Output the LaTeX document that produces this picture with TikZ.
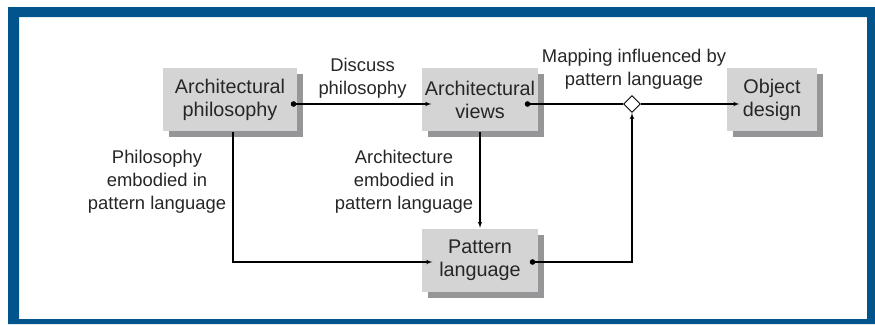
\documentclass[tikz,border=0pt]{standalone}
\usepackage{fontspec}
\setmainfont{Liberation Sans}
\usepackage{xcolor}
\usepackage{tikz}
\usetikzlibrary{arrows,shapes.geometric,shadows}

\definecolor{frameblue}{RGB}{2,84,140}
\definecolor{boxgray}{RGB}{212,212,212}
\definecolor{shadegray}{RGB}{150,150,153}

\begin{document}
\begin{tikzpicture}[->,>=latex',x=1pt,y=1pt,line width=1.1pt,node distance=250pt,
                    every node/.style={align=center,text=black!85}]
  \tikzstyle{block}=[draw=none,fill=boxgray,minimum height=63pt,inner sep=0pt,
                     font=\fontsize{19.8}{23}\selectfont,
                     drop shadow={shadow xshift=6pt,shadow yshift=-6pt,fill=shadegray,opacity=1}]
  \tikzstyle{remark}=[inner sep=0pt,font=\fontsize{18.4}{23}\selectfont]

  \useasboundingbox (0,0) rectangle (875,-324);
  \fill[frameblue,even odd rule] (8,-7) rectangle (875,-324) (19,-17) rectangle (867,-319);

  \node[block,minimum width=134pt] (Phil) at (230,-99.5) {Architectural\\philosophy};
  \node[block,minimum width=116pt] (Views)   [right of=Phil]                        {Architectural\\views};
  \node[block,minimum width=90pt]  (Object)  [right of=Views,node distance=292pt]   {Object\\design};
  \node[block,minimum width=116pt] (Pattern) [below of=Views,node distance=160.5pt] {Pattern\\language};
  \node[diamond,draw,fill=white,minimum size=17pt,inner sep=0pt,line width=0.9pt]
        (Map) [right of=Views,node distance=152pt,yshift=-4.5pt] {};

  \node[remark] (MapText)   [above of=Map,node distance=35pt,xshift=2pt] {Mapping influenced by\\pattern language};
  \node[remark] (PhilText)  at (157,-182) {Philosophy\\embodied in\\pattern language};
  \node[remark] (ViewsText) at (404,-182) {Architecture\\embodied in\\pattern language};

  % dots where the lines leave the boxes
  \coordinate (PhilOut)    at ([xshift=-4pt,yshift=-4.5pt]Phil.east);
  \coordinate (ViewsOut)   at ([xshift=-11pt,yshift=-4.5pt]Views.east);
  \coordinate (PatternOut) at ([xshift=-6pt,yshift=-2pt]Pattern.east);
  \foreach \dot in {PhilOut,ViewsOut,PatternOut}
    \fill (\dot) circle (2.8pt);

  \draw (PhilOut) -- node[remark,above=5pt] (DiscussText) {Discuss\\philosophy}
        ([xshift=10pt,yshift=-4.5pt]Views.west);
  \draw[-] (ViewsOut) -- (Map.west);
  \draw (Map.east) -- ([xshift=13pt,yshift=-4.5pt]Object.west);
  \draw (Views.south) -- (Pattern.north);
  \draw ([xshift=3pt]Phil.south) |- ([xshift=11pt,yshift=-2pt]Pattern.west);
  \draw (PatternOut) -| (Map.south);
\end{tikzpicture}
\end{document}
